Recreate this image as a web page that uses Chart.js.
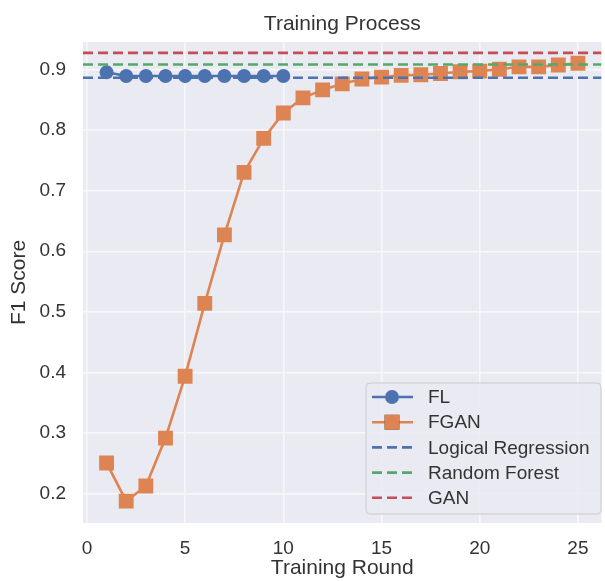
<!DOCTYPE html>
<html>
<head>
<meta charset="utf-8">
<script src="https://cdn.jsdelivr.net/npm/chart.js@4.4.0/dist/chart.umd.min.js"></script>
<style>
	html, body { margin: 0; padding: 0; background: #ffffff; overflow: hidden; }
	#wrap { width: 612px; height: 581px; }
</style>
</head>
<body>
<div id="wrap"><canvas id="canvas" width="612" height="581"></canvas></div>
<script>
	// data
	const rounds = [1, 2, 3, 4, 5, 6, 7, 8, 9, 10, 11, 12, 13, 14, 15, 16, 17, 18, 19, 20, 21, 22, 23, 24, 25];
	const flRounds = [1, 2, 3, 4, 5, 6, 7, 8, 9, 10];
	const flScores = [0.895, 0.889, 0.889, 0.889, 0.889, 0.889, 0.889, 0.889, 0.889, 0.889];
	const fganScores = [0.251, 0.188, 0.213, 0.292, 0.394, 0.514, 0.627, 0.730, 0.786, 0.828,
		0.853, 0.866, 0.876, 0.884, 0.887, 0.890, 0.891, 0.893, 0.896, 0.897,
		0.900, 0.904, 0.904, 0.907, 0.910];
	const baselineNames = ["Logical Regression", "Random Forest", "GAN"];
	const baselineScores = [0.886, 0.908, 0.927];
	const xTicks = [0, 5, 10, 15, 20, 25];
	const yTicks = [0.2, 0.3, 0.4, 0.5, 0.6, 0.7, 0.8, 0.9];

	const xMin = -0.2, xMax = 26.2;
	const yMin = 0.152, yMax = 0.945;

	const BLUE = "#4C72B0", ORANGE = "#DD8452", GREEN = "#55A868", RED = "#C44E52";
	const TEXT = "#333333";
	const FONT = "'Liberation Sans', Arial, sans-serif";
	const baselineColors = [BLUE, GREEN, RED];

	let datasets = [];
	datasets.push({
		label: "FL",
		data: flRounds.map((r, i) => ({ x: r, y: flScores[i] })),
		borderColor: BLUE, backgroundColor: BLUE,
		pointBorderColor: BLUE, pointBackgroundColor: BLUE,
		borderWidth: 2.6, pointRadius: 7, pointStyle: "circle", pointBorderWidth: 0,
		order: 1
	});
	datasets.push({
		label: "FGAN",
		data: rounds.map((r, i) => ({ x: r, y: fganScores[i] })),
		borderColor: ORANGE, backgroundColor: ORANGE,
		pointBorderColor: ORANGE, pointBackgroundColor: ORANGE,
		borderWidth: 2.6, pointRadius: 10.5, pointStyle: "rect", pointBorderWidth: 0,
		order: 1
	});
	baselineNames.forEach((name, i) => {
		datasets.push({
			label: name,
			data: [{ x: xMin, y: baselineScores[i] }, { x: xMax, y: baselineScores[i] }],
			borderColor: baselineColors[i], backgroundColor: baselineColors[i],
			borderWidth: 2.6, borderDash: [10, 5], pointRadius: 0,
			order: 0
		});
	});

	// seaborn-ish plot background
	const bgPlugin = {
		id: "bg",
		beforeDraw(chart) {
			const { ctx, chartArea: a } = chart;
			ctx.save();
			ctx.fillStyle = "#EAEAF2";
			ctx.fillRect(a.left, a.top, a.right - a.left, a.bottom - a.top);
			ctx.restore();
		}
	};

	// title + legend box inside the plot
	const decoPlugin = {
		id: "deco",
		afterDraw(chart) {
			const { ctx, chartArea: a } = chart;
			ctx.save();
			ctx.fillStyle = TEXT;
			ctx.font = "21px " + FONT;
			ctx.textAlign = "center";
			ctx.textBaseline = "middle";
			ctx.fillText("Training Process", (a.left + a.right) / 2, 24);

			// legend frame
			const bx = 366, by = 383, bw = 235, bh = 131, r = 4;
			ctx.beginPath();
			ctx.roundRect(bx, by, bw, bh, r);
			ctx.fillStyle = "rgba(234,234,242,0.85)";
			ctx.fill();
			ctx.strokeStyle = "#cccccc";
			ctx.lineWidth = 1;
			ctx.stroke();

			ctx.font = "19px " + FONT;
			ctx.textAlign = "left";
			chart.data.datasets.forEach((ds, i) => {
				const y = 397 + i * 25.2;
				ctx.strokeStyle = ds.borderColor;
				ctx.lineWidth = ds.borderWidth;
				ctx.setLineDash(ds.borderDash || []);
				ctx.beginPath();
				ctx.moveTo(372, y);
				ctx.lineTo(413, y);
				ctx.stroke();
				ctx.setLineDash([]);
				if (ds.pointRadius > 0) {
					Chart.helpers.drawPoint(ctx, {
						pointStyle: ds.pointStyle, radius: ds.pointRadius, borderWidth: 0
					}, 392, y);
					ctx.fillStyle = ds.backgroundColor;
					ctx.fill();
				}
				ctx.fillStyle = TEXT;
				ctx.fillText(ds.label, 428, y + 1);
			});
			ctx.restore();
		}
	};

	const ctx = document.getElementById("canvas").getContext("2d");
	const chart = new Chart(ctx, {
		type: "line",
		data: { datasets: datasets },
		plugins: [bgPlugin, decoPlugin],
		options: {
			responsive: false,
			animation: false,
			layout: { padding: { top: 42, right: 1, left: 0, bottom: 0 } },
			plugins: {
				legend: { display: false },
				tooltip: { enabled: false },
				title: { display: false }
			},
			scales: {
				x: {
					type: "linear",
					min: xMin, max: xMax,
					afterBuildTicks: s => { s.ticks = xTicks.map(v => ({ value: v })); },
					afterFit: s => { s.height = 58; },
					grid: { color: "#f7f7fa", lineWidth: 1.5, drawTicks: false },
					border: { display: false },
					ticks: { color: TEXT, font: { family: FONT, size: 19 }, padding: 14, maxRotation: 0 },
					title: { display: true, text: "Training Round", color: TEXT, font: { family: FONT, size: 21 }, padding: { top: 0, bottom: 0 } }
				},
				y: {
					type: "linear",
					min: yMin, max: yMax,
					afterBuildTicks: s => { s.ticks = yTicks.map(v => ({ value: v })); },
					afterFit: s => { s.width = 83; },
					grid: { color: "#f7f7fa", lineWidth: 1.5, drawTicks: false },
					border: { display: false },
					ticks: { color: TEXT, font: { family: FONT, size: 19 }, padding: 17, callback: v => v.toFixed(1) },
					title: { display: true, text: "F1 Score", color: TEXT, font: { family: FONT, size: 21 }, padding: { top: 7, bottom: 0 } }
				}
			}
		}
	});
</script>
</body>
</html>
